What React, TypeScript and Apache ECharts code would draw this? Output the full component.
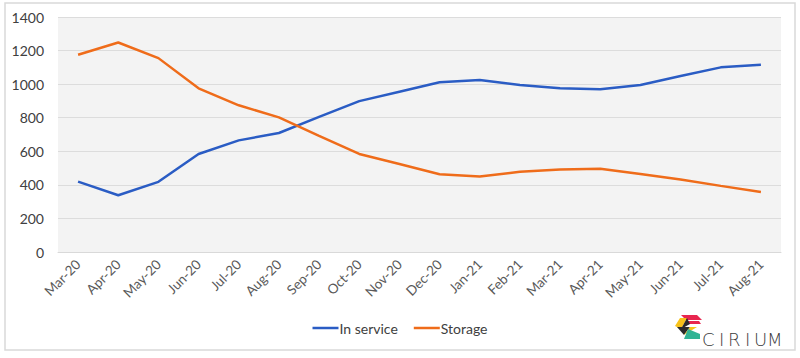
import React, { useEffect, useRef } from "react";
import * as echarts from "echarts";

const categories = ["Mar-20","Apr-20","May-20","Jun-20","Jul-20","Aug-20","Sep-20","Oct-20","Nov-20","Dec-20","Jan-21","Feb-21","Mar-21","Apr-21","May-21","Jun-21","Jul-21","Aug-21"];
const inService = [419, 338, 418, 584, 665, 709, 805, 899, 955, 1011, 1024, 995, 975, 969, 995, 1048, 1100, 1116];
const storage = [1175, 1248, 1155, 975, 874, 802, 692, 584, 524, 463, 450, 478, 492, 496, 465, 432, 394, 357];
const seriesNames = ["In service", "Storage"];
const logoLetters = ["C", "I", "R", "I", "U", "M"];
const logoLetterX = [702, 719, 728, 745, 754, 767];

export default function App() {
  const ref = useRef<HTMLDivElement>(null);
  useEffect(() => {
    const chart = echarts.init(ref.current!, null, { renderer: "svg" });
    const font = "Lato, 'Open Sans', sans-serif";
    chart.setOption({
      animation: false,
      backgroundColor: "#ffffff",
      grid: {
        left: 58, right: 19, top: 17, bottom: 106,
        show: true, backgroundColor: "#f3f3f3", borderWidth: 0,
      },
      legend: {
        bottom: 18, left: "center",
        icon: "rect", itemWidth: 26, itemHeight: 2.5, itemGap: 16,
        textStyle: { color: "#404040", fontSize: 14, fontFamily: font, padding: [0, 0, 0, -4] },
        data: seriesNames,
      },
      xAxis: {
        type: "category",
        data: categories,
        boundaryGap: true,
        axisLine: { lineStyle: { color: "#d9d9d9", width: 1 } },
        axisTick: { show: false },
        axisLabel: { rotate: 45, color: "#595959", fontSize: 13.5, fontFamily: font, margin: 10, interval: 0 },
      },
      yAxis: {
        type: "value",
        min: 0, max: 1400, interval: 200,
        axisLine: { show: false },
        axisTick: { show: false },
        splitLine: { lineStyle: { color: "#dcdcdc", width: 1 } },
        axisLabel: { color: "#404040", fontSize: 14, fontFamily: font, margin: 14, formatter: (v: number) => String(v) },
      },
      series: [
        { name: seriesNames[0], type: "line", data: inService, showSymbol: false, symbol: "none",
          lineStyle: { color: "#2a5cc4", width: 2.5 }, itemStyle: { color: "#2a5cc4" } },
        { name: seriesNames[1], type: "line", data: storage, showSymbol: false, symbol: "none",
          lineStyle: { color: "#ef6c1a", width: 2.5 }, itemStyle: { color: "#ef6c1a" } },
      ],
      graphic: [
        { type: "rect", shape: { x: 5, y: 3, width: 790, height: 347 }, silent: true,
          style: { fill: "none", stroke: "#d9d9d9", lineWidth: 1.5 } },
        { type: "polygon", shape: { points: [[681, 315], [697, 315], [702, 320], [686, 320]] }, style: { fill: "#e8254f" } },
        { type: "polygon", shape: { points: [[686, 321], [699, 321], [701, 324], [688, 324]] }, style: { fill: "#e8254f" } },
        { type: "polygon", shape: { points: [[680, 318], [687, 318], [681, 329], [675, 326]] }, style: { fill: "#f7c21a" } },
        { type: "polygon", shape: { points: [[681, 329], [687, 318], [690, 324]] }, style: { fill: "#2b2b2b" } },
        { type: "polygon", shape: { points: [[677, 327], [690, 327], [684, 335]] }, style: { fill: "#2b2b2b" } },
        { type: "polygon", shape: { points: [[690, 327], [697, 327], [684, 335]] }, style: { fill: "#f7c21a" } },
        { type: "polygon", shape: { points: [[688, 329], [700, 334], [700, 339], [684, 339]] }, style: { fill: "#31b495" } },
        ...logoLetters.map((ch, i) => ({
          type: "text", x: logoLetterX[i], y: 330, silent: true,
          style: { text: ch, fill: "#3a3a3a", font: "300 18px 'DejaVu Sans', sans-serif", textVerticalAlign: "top" },
        })),
      ],
    });
    return () => chart.dispose();
  }, []);
  return <div ref={ref} style={{ position: "fixed", left: 0, top: 0, width: 800, height: 358 }} />;
}
